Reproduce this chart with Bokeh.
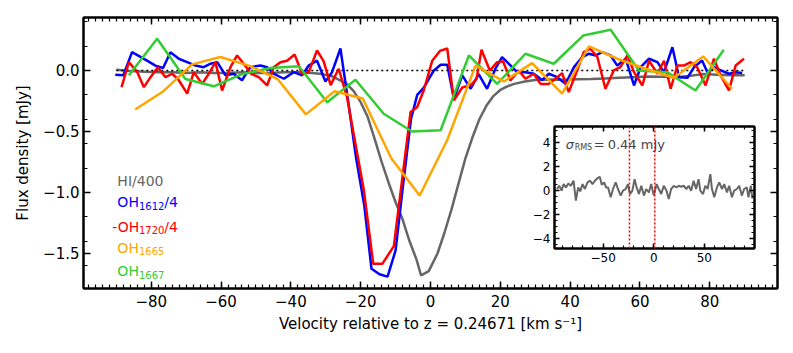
from bokeh.plotting import figure
from bokeh.models import (Range1d, FixedTicker, LinearAxis, Label, Span,
                          CustomJSTickFormatter, CustomLabelingPolicy, GridBox)
from bokeh.embed import file_html
from bokeh.resources import INLINE

FONT = "DejaVu Sans"

# ---------------- data ----------------
hi_v = [-90, -86, -82, -78, -74, -70, -66, -62, -58, -54, -50, -46, -42, -38, -34, -31,
        -28, -26, -24, -22, -20, -18, -16, -14, -12, -10, -8, -6, -4, -2.7, -0.5, 2, 4, 6,
        8, 10, 12, 14, 16, 18, 20, 22, 24, 27, 30, 34, 38, 42, 46, 50, 54, 58, 62, 66, 70,
        74, 78, 82, 86, 90]
hi_f = [0.005, -0.005, -0.01, -0.015, -0.015, -0.02, -0.015, -0.02, -0.02, -0.015, -0.02,
        -0.02, -0.015, -0.015, -0.02, -0.03, -0.05, -0.08, -0.11, -0.17, -0.26, -0.38,
        -0.56, -0.75, -0.92, -1.08, -1.22, -1.40, -1.55, -1.68, -1.645, -1.50, -1.33,
        -1.14, -0.93, -0.72, -0.55, -0.40, -0.29, -0.21, -0.16, -0.13, -0.11, -0.09,
        -0.078, -0.075, -0.077, -0.072, -0.07, -0.065, -0.06, -0.055, -0.05, -0.052,
        -0.055, -0.045, -0.03, -0.035, -0.04, -0.04]

oh1612_v = [-90.3, -88.0, -85.5, -83.6, -81.2, -78.8, -76.6, -74.5, -72.1, -69.7, -67.3,
            -65.0, -63.0, -61.1, -58.7, -56.4, -54.0, -51.6, -48.7, -46.8, -44.9, -42.0,
            -39.2, -36.8, -34.9, -32.5, -30.1, -28.2, -25.8, -23.6, -21.3, -19.0, -16.9,
            -14.6, -12.3, -10.0, -7.9, -5.6, -3.8, -1.9, -0.3, 1.0, 2.9, 4.8, 6.7, 9.1,
            11.5, 13.8, 16.2, 18.6, 20.5, 22.4, 24.8, 27.2, 29.6, 32.0, 33.9, 36.3, 38.7,
            41.1, 43.5, 45.4, 47.3, 49.2, 51.6, 53.5, 55.9, 58.3, 60.2, 62.6, 65.0, 66.9,
            69.3, 71.2, 73.6, 75.5, 77.8, 79.3, 81.2, 83.1, 85.5, 87.4, 89.3]
oh1612_f = [-0.035, -0.04, 0.15, 0.12, 0.08, 0.04, 0.02, 0.15, 0.096, 0.068, 0.04, 0.027,
            0.055, 0.068, -0.04, -0.027, -0.08, 0.027, 0.04, 0.027, -0.027, -0.068, -0.014,
            -0.04, 0.04, 0.08, -0.09, -0.014, 0.18, -0.25, -0.72, -1.1, -1.625, -1.67,
            -1.69, -1.475, -0.95, -0.4, -0.2, -0.14, -0.06, 0.0, 0.047, 0.047, -0.23,
            -0.04, -0.15, -0.03, -0.15, 0.014, 0.11, 0.055, -0.014, -0.014, -0.027, -0.08,
            -0.027, -0.055, -0.11, 0.027, 0.11, 0.137, 0.123, 0.15, 0.123, 0.04, 0.096,
            -0.123, 0.027, 0.096, 0.068, -0.014, 0.19, -0.055, -0.06, 0.027, 0.082, -0.014,
            0.027, 0.0, -0.027, -0.014, -0.02]

oh1720_v = [-88.5, -86.4, -84.0, -82.1, -80.2, -78.1, -75.9, -74.0, -72.1, -69.7, -67.8,
            -65.4, -63.5, -61.6, -59.7, -57.3, -55.4, -53.5, -51.4, -49.2, -46.8, -44.9,
            -43.0, -41.1, -38.9, -36.8, -34.9, -32.5, -30.6, -28.6, -26.3, -23.9, -21.5,
            -19.1, -16.4, -13.8, -10.5, -5.7, -3.8, -1.9, 0.5, 2.7, 4.8, 6.7, 9.1, 11.5,
            13.2, 14.6, 17.0, 19.1, 20.8, 22.9, 25.3, 27.2, 29.6, 31.5, 33.9, 35.8, 37.7,
            39.6, 42.0, 43.9, 45.8, 47.8, 50.1, 52.5, 54.4, 56.4, 58.3, 60.7, 62.6, 65.0,
            66.9, 68.8, 70.7, 72.6, 74.5, 76.4, 78.8, 81.2, 83.1, 85.5, 87.4, 89.8]
oh1720_f = [-0.137, 0.068, -0.014, -0.137, -0.055, 0.027, -0.055, -0.027, -0.08, -0.19,
            -0.014, -0.11, -0.027, 0.068, -0.164, 0.027, 0.123, 0.055, -0.027, -0.055,
            -0.123, 0.027, 0.068, 0.08, 0.13, -0.027, -0.014, 0.164, 0.075, -0.12, 0.014,
            -0.22, -0.6, -0.98, -1.585, -1.585, -1.44, -0.34, -0.3, -0.16, 0.08, 0.16,
            0.18, -0.245, -0.14, -0.12, -0.07, 0.17, 0.0, 0.068, 0.076, -0.082, 0.0,
            -0.068, -0.027, -0.11, -0.11, -0.068, -0.022, -0.178, 0.0, 0.15, 0.178, 0.11,
            -0.15, 0.0, 0.027, 0.123, -0.014, -0.123, 0.08, -0.027, 0.08, -0.15, 0.04,
            0.04, 0.068, 0.027, -0.123, 0.096, -0.04, -0.164, 0.04, 0.096]

oh1665_v = [-84.6, -76.5, -68.3, -60.2, -52.0, -43.8, -35.7, -27.5, -19.4, -11.25, -3.1,
            4.8, 12.9, 21.0, 29.1, 37.7, 45.4, 53.5, 61.6, 69.7, 78.1, 86.4]
oh1665_f = [-0.32, -0.17, 0.05, 0.11, 0.04, -0.07, -0.36, -0.17, -0.23, -0.72, -1.025,
            -0.57, 0.04, -0.09, 0.06, -0.19, 0.197, 0.096, 0.014, -0.06, 0.115, -0.15]

oh1667_v = [-86.4, -78.3, -70.2, -62.1, -54.0, -45.8, -37.7, -29.6, -21.5, -13.4, -5.3,
            2.9, 11.0, 19.1, 27.2, 35.3, 43.8, 51.6, 59.7, 67.8, 75.9, 84.0]
oh1667_f = [-0.04, 0.26, -0.07, -0.13, -0.03, 0.02, 0.035, -0.26, -0.076, -0.355, -0.5,
            -0.49, 0.123, -0.11, 0.137, 0.055, 0.287, 0.334, 0.0, -0.014, -0.164, 0.17]

# inset: residual noise spectrum
noise_v = [-95.6, -93.3, -91.0, -89.0, -86.7, -84.4, -81.8, -79.2, -76.9, -74.6,
           -72.6, -70.3, -68.0, -65.4, -62.8, -60.5, -58.2, -55.6, -53.3, -51.3,
           -49.0, -47.1, -45.1, -42.5, -40.2, -37.6, -35.3, -32.6, -30.4, -27.7,
           -25.5, -23.5, -21.1, -18.9, -16.9, -14.6, -12.3, -9.7, -7.4, -4.8,
           -2.5, 0.1, 2.8, 5.0, 7.4, 9.9, 12.6, 14.8, 17.2, 19.8,
           22.4, 24.7, 27.0, 29.6, 32.3, 34.5, 36.9, 39.4, 41.8, 44.3,
           46.0, 48.7, 50.9, 53.2, 55.9, 57.5, 59.8, 62.4, 64.7, 67.4,
           69.6, 72.3, 74.5, 77.2, 79.4, 82.1, 84.4, 87.0, 89.3, 91.9,
           93.5, 95.9, 97.5]
noise_f = [0.1, 0.37, -0.04, 0.51, 0.23, 0.56, 0.37, 0.79, -0.87, 0.23,
           -0.1, 0.51, 0.1, 0.65, 0.79, 0.51, 0.79, 1.0, 1.12, 0.45,
           0.65, 0.23, 0.23, -0.59, 0.1, 0.65, 0.1, -0.45, -0.04, 0.1,
           0.51, -0.32, -0.04, 0.92, 0.23, -0.32, 0.37, -0.45, 0.1, -0.18,
           0.51, -0.45, 0.51, 0.1, -0.32, 0.37, -0.04, -0.73, 0.1, 0.37,
           0.23, 0.37, 0.29, 0.37, 0.1, 0.37, -0.04, 0.79, 0.1, 0.92,
           -0.04, -0.32, 0.37, 0.1, 1.34, 0.1, -0.59, 0.23, 0.65, 0.1,
           0.51, -0.18, 0.37, -0.59, -0.04, 0.1, 0.37, -0.45, 0.1, 0.23,
           -0.59, 0.37, -0.7]
line_window = [-24, 1]
sigma_text = "0.44 mJy"

# legend entries: (main text, subscript, trailing text)
legend_parts = [("HI/400", "", ""), ("OH", "1612", "/4"), ("-OH", "1720", "/4"),
                ("OH", "1665", ""), ("OH", "1667", "")]
legend_colors = ["#666666", "#0000ff", "#ff0000", "#ffa500", "#32cd32"]
legend_y = [-0.861, -1.039, -1.238, -1.412, -1.604]

x_major = [-80, -60, -40, -20, 0, 20, 40, 60, 80]
x_minor = list(range(-98, 100, 2))
y_major = [-1.5, -1.0, -0.5, 0.0]
y_minor = [round(-1.8 + 0.2 * i, 1) for i in range(12)]
ix_major = [-50, 0, 50]
ix_minor = list(range(-90, 100, 10))
iy_major = [-4, -2, 0, 2, 4]
iy_minor = [-4.5 + 0.5 * i for i in range(20)]

# DejaVu Sans advance widths (em) used to chain text pieces
ADV = {"O": 0.787, "H": 0.752, "I": 0.295, "/": 0.337, "-": 0.361}


def text_width(s, size):
    return sum(ADV.get(ch, 0.636) for ch in s) * size


def fmt(decimals):
    return CustomJSTickFormatter(code="return (tick < 0 ? '\\u2212' : '') + Math.abs(tick).toFixed(%d);" % decimals)


def style_axis(ax, major, minor, decimals, labels, size, tin=7, tmin=4):
    ax.ticker = FixedTicker(ticks=major, minor_ticks=minor)
    ax.axis_line_width = 2
    ax.axis_line_color = "black"
    ax.major_tick_in = tin
    ax.major_tick_out = 0
    ax.minor_tick_in = tmin
    ax.minor_tick_out = 0
    ax.major_tick_line_width = 1.5
    ax.minor_tick_line_width = 1.2
    ax.major_label_text_font = FONT
    ax.major_label_text_color = "black"
    if labels:
        ax.formatter = fmt(decimals)
        ax.major_label_text_font_size = size
        ax.major_label_standoff = 4
    else:
        ax.formatter = CustomJSTickFormatter(code="return '';")
        ax.major_label_policy = CustomLabelingPolicy(
            code="for (const i of indices) { indices.unset(i) }\nreturn indices")
        ax.major_label_text_font_size = "1px"
        ax.major_label_standoff = 0


# ---------------- main figure ----------------
p = figure(width=785, height=348, x_range=Range1d(-99.4, 99.4), y_range=Range1d(-1.787, 0.434),
           output_backend="svg", toolbar_location=None,
           min_border_left=83, min_border_right=8, min_border_top=17, min_border_bottom=60)
p.grid.visible = False
p.outline_line_color = "black"
p.outline_line_width = 2
p.background_fill_color = "white"
p.border_fill_color = "white"

style_axis(p.xaxis[0], x_major, x_minor, 0, True, "15px")
style_axis(p.yaxis[0], y_major, y_minor, 1, True, "15px")
p.xaxis[0].major_label_standoff = 6
p.xaxis.axis_label = "Velocity relative to z = 0.24671 [km s\u207b\u00b9]"
p.yaxis.axis_label = "Flux density [mJy]"
for ax in (p.xaxis[0], p.yaxis[0]):
    ax.axis_label_text_font = FONT
    ax.axis_label_text_font_size = "15px"
    ax.axis_label_text_font_style = "normal"
    ax.axis_label_text_color = "black"
p.xaxis[0].axis_label_standoff = 5
p.yaxis[0].axis_label_standoff = 8

top = LinearAxis()
style_axis(top, x_major, x_minor, 0, False, "0px")
p.add_layout(top, "above")
right = LinearAxis()
style_axis(right, y_major, y_minor, 1, False, "0px")
p.add_layout(right, "right")

p.line(hi_v, hi_f, line_color=legend_colors[0], line_width=2.5)
p.line([min(hi_v), max(hi_v)], [0, 0], line_color="black", line_width=1.5, line_dash="2 3")
p.line(oh1612_v, oh1612_f, line_color=legend_colors[1], line_width=2.5)
p.line(oh1720_v, oh1720_f, line_color=legend_colors[2], line_width=2.5)
p.line(oh1667_v, oh1667_f, line_color=legend_colors[4], line_width=2.5)
p.line(oh1665_v, oh1665_f, line_color=legend_colors[3], line_width=2.5)

# legend-like coloured texts, with true subscripts
MAIN_SIZE, SUB_SIZE = 14, 10
PX = 1.0 / 122.0  # one screen pixel in y data units of the main plot
for (main_t, sub_t, tail_t), c, yy in zip(legend_parts, legend_colors, legend_y):
    base = yy - 5.1 * PX
    x0 = -text_width("-", MAIN_SIZE) if main_t.startswith("-") else 0.0
    p.add_layout(Label(x=-89.7, y=base, x_offset=x0, text=main_t, text_color=c,
                       text_font=FONT, text_font_size="%dpx" % MAIN_SIZE,
                       text_baseline="alphabetic", text_align="left"))
    x1 = x0 + text_width(main_t, MAIN_SIZE)
    if sub_t:
        p.add_layout(Label(x=-89.7, y=base - 3.5 * PX, x_offset=x1, text=sub_t, text_color=c,
                           text_font=FONT, text_font_size="%dpx" % SUB_SIZE,
                           text_baseline="alphabetic", text_align="left"))
        x1 += text_width(sub_t, SUB_SIZE)
    if tail_t:
        p.add_layout(Label(x=-89.7, y=base, x_offset=x1, text=tail_t, text_color=c,
                           text_font=FONT, text_font_size="%dpx" % MAIN_SIZE,
                           text_baseline="alphabetic", text_align="left"))

# ---------------- inset ----------------
# borders equal to the main plot's, since the grid aligns the frames of both plots
ins = figure(frame_width=200, frame_height=122, x_range=Range1d(-98, 99.5),
             y_range=Range1d(-4.85, 5.3), output_backend="svg", toolbar_location=None,
             min_border_left=83, min_border_right=8, min_border_top=17, min_border_bottom=60)
ins.grid.visible = False
ins.outline_line_color = "black"
ins.outline_line_width = 2
ins.background_fill_color = "white"
ins.border_fill_color = None
style_axis(ins.xaxis[0], ix_major, ix_minor, 0, True, "12px", 5, 3)
style_axis(ins.yaxis[0], iy_major, iy_minor, 0, True, "12px", 5, 3)
itop = LinearAxis()
style_axis(itop, ix_major, ix_minor, 0, False, "0px", 5, 3)
ins.add_layout(itop, "above")
iright = LinearAxis()
style_axis(iright, iy_major, iy_minor, 0, False, "0px", 5, 3)
ins.add_layout(iright, "right")

ins.line(noise_v, noise_f, line_color="#666666", line_width=2)
for loc in line_window:
    ins.add_layout(Span(location=loc, dimension="height", line_color="red",
                        line_width=1.5, line_dash="2 2"))

ty = 3.84
ins.add_layout(Label(x=-87, y=ty, text="\u03c3", text_font=FONT, text_font_size="13px",
                     text_font_style="italic", text_baseline="alphabetic"))
ins.add_layout(Label(x=-87, y=ty - 0.25, x_offset=9, text="RMS", text_font=FONT,
                     text_font_size="8px", text_baseline="alphabetic"))
ins.add_layout(Label(x=-87, y=ty, x_offset=28, text="=", text_font=FONT,
                     text_font_size="13px", text_baseline="alphabetic"))
ins.add_layout(Label(x=-87, y=ty, x_offset=42, text=sigma_text, text_font=FONT,
                     text_font_size="13px", text_baseline="alphabetic"))

ins.margin = (109, 0, 0, 471)
layout = GridBox(children=[(p, 0, 0), (ins, 0, 0)])

open("out.html", "w").write(file_html(layout, INLINE))
